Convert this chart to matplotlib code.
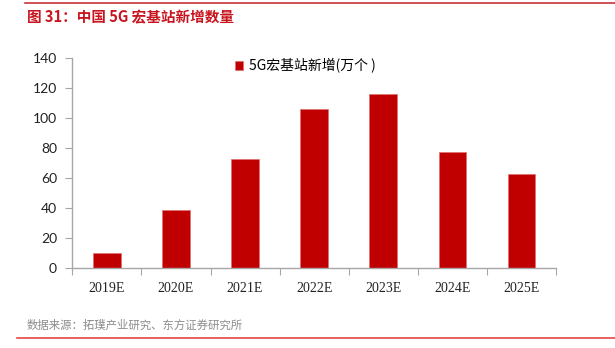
import matplotlib
matplotlib.use("Agg")
import matplotlib.pyplot as plt
from matplotlib.lines import Line2D
import numpy as np

plt.rcParams['font.family'] = ['Noto Sans CJK SC', 'DejaVu Sans']

# --- data ---
years = ['2019E', '2020E', '2021E', '2022E', '2023E', '2024E', '2025E']
new_macro_stations = [9.6, 38.5, 72.3, 105.8, 115.6, 77.1, 62.5]
y_ticks = [0, 20, 40, 60, 80, 100, 120, 140]

BAR_RED = '#C00000'
AXIS_GRAY = '#A6A6A6'

fig = plt.figure(figsize=(6.15, 3.48), dpi=100)
ax = fig.add_axes([0.1176, 0.2307, 0.7864, 0.6035])

x = np.arange(len(years))
ax.bar(x, new_macro_stations, width=0.4, color=BAR_RED,
       edgecolor='#E07070', linewidth=0.5, label='5G宏基站新增(万个 )')

ax.set_xlim(-0.5, len(years) - 0.5)
ax.set_ylim(0, 140)
ax.set_yticks(y_ticks)
ax.set_yticklabels([str(v) for v in y_ticks], fontfamily='Lato', fontsize=10,
                   color='#222222')

# category labels sit between boundary tick marks
ax.set_xticks(x)
ax.set_xticklabels(years, fontfamily='Liberation Serif', fontsize=10,
                   color='#222222')
ax.set_xticks(np.arange(-0.5, len(years)), minor=True)
ax.tick_params(axis='x', which='major', length=0, pad=10)
ax.tick_params(axis='x', which='minor', length=5, width=0.8, color=AXIS_GRAY)
ax.tick_params(axis='y', length=5, width=0.8, color=AXIS_GRAY, pad=6)

for side in ['top', 'right']:
    ax.spines[side].set_visible(False)
for side in ['left', 'bottom']:
    ax.spines[side].set_color(AXIS_GRAY)
    ax.spines[side].set_linewidth(1.0)

ax.legend(loc='upper left', bbox_to_anchor=(0.31, 1.055), frameon=False,
          fontsize=10, handlelength=0.6, handleheight=0.6, handletextpad=0.4)

# header / footer rules and texts
fig.add_artist(Line2D([25 / 615, 1.0], [1 - 3 / 348] * 2, color='#C8323A',
                      linewidth=1.2, transform=fig.transFigure))
fig.add_artist(Line2D([17 / 615, 1.0], [1 - 338 / 348] * 2, color='#E84545',
                      linewidth=1.2, transform=fig.transFigure))
fig.text(27 / 615, 1 - 17 / 348, '图 31：中国 5G 宏基站新增数量', color='#C8141E',
         fontsize=10.5, fontweight='bold', va='center', ha='left')
fig.text(27 / 615, 1 - 325 / 348, '数据来源：拓璞产业研究、东方证券研究所',
         color='#8C8C8C', fontsize=8.2, va='center', ha='left')

fig.savefig('out.png', dpi=100, facecolor='white')
